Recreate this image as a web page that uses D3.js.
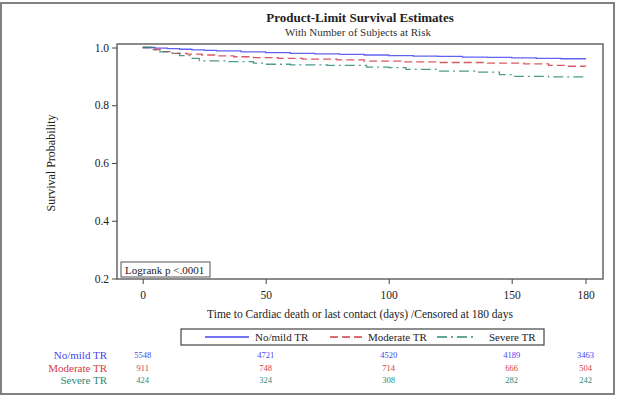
<!DOCTYPE html>
<html><head><meta charset="utf-8">
<script src="https://cdn.jsdelivr.net/npm/d3@7"></script>
<style>html,body{margin:0;padding:0;background:#fff;}svg{display:block;}</style>
</head><body>
<script>
// ---- data ----
const groups = ["No/mild TR", "Moderate TR", "Severe TR"];
const colors = ["#4646f0", "#d23c48", "#2e8a7a"];
const dashes = [null, "8,4", "10,4,2,4"];
const timesNoMild = [0,5,10,15,20,25,30,40,50,60,70,80,90,100,110,120,130,140,150,160,170,180];
const survNoMild  = [1.0,0.998,0.996,0.994,0.992,0.990,0.988,0.985,0.982,0.980,0.978,0.976,0.974,0.972,0.970,0.969,0.967,0.966,0.964,0.962,0.961,0.959];
const timesModerate = [0,3,8,12,18,24,30,37,45,55,65,79,90,105,120,140,155,165,172,180];
const survModerate  = [1.0,0.993,0.986,0.980,0.977,0.974,0.971,0.968,0.965,0.962,0.960,0.957,0.953,0.950,0.948,0.946,0.943,0.938,0.935,0.934];
const timesSevere = [0,4,7,12,15,20,23,35,45,50,60,75,91,100,107,120,135,145,150,165,180];
const survSevere  = [1.0,0.992,0.985,0.980,0.972,0.962,0.954,0.951,0.946,0.942,0.940,0.938,0.932,0.930,0.924,0.918,0.915,0.906,0.900,0.898,0.896];
const xTicks = [0, 50, 100, 150, 180];
const yTicks = [0.2, 0.4, 0.6, 0.8, 1.0];
const riskNoMild = [5548, 4721, 4520, 4189, 3463];
const riskModerate = [911, 748, 714, 666, 504];
const riskSevere = [424, 324, 308, 282, 242];
const titleText = "Product-Limit Survival Estimates";
const subtitleText = "With Number of Subjects at Risk";
const xLabel = "Time to Cardiac death or last contact (days) /Censored at 180 days";
const yLabel = "Survival Probability";
const logrankText = "Logrank p <.0001";

const series = [
  {name: groups[0], t: timesNoMild, s: survNoMild, risk: riskNoMild},
  {name: groups[1], t: timesModerate, s: survModerate, risk: riskModerate},
  {name: groups[2], t: timesSevere, s: survSevere, risk: riskSevere}
];

const W = 621, H = 397;
const font = "'Liberation Serif','Times New Roman',serif";
const svg = d3.select("body").append("svg").attr("width", W).attr("height", H)
  .style("font-family", font);

// outer frame
svg.append("rect").attr("x", 1).attr("y", 3).attr("width", 613).attr("height", 391)
  .attr("fill", "none").attr("stroke", "#808080").attr("stroke-width", 2);

const frame = {l: 117, r: 603, t: 44, b: 279};
const x = d3.scaleLinear().domain([0, 180]).range([142.7, 585.5]);
const y = d3.scaleLinear().domain([0.2, 1.0]).range([278.5, 47.5]);

// titles
svg.append("text").attr("x", 360).attr("y", 22).attr("text-anchor", "middle")
  .attr("font-size", 13).attr("font-weight", "bold").attr("fill", "#222").text(titleText);
svg.append("text").attr("x", 358).attr("y", 36).attr("text-anchor", "middle")
  .attr("font-size", 11).attr("fill", "#333").text(subtitleText);

// plot frame
svg.append("rect").attr("x", frame.l).attr("y", frame.t)
  .attr("width", frame.r - frame.l).attr("height", frame.b - frame.t)
  .attr("fill", "none").attr("stroke", "#666").attr("stroke-width", 1.5);

// axes
const yAxis = d3.axisLeft(y).tickValues(yTicks).tickFormat(d3.format(".1f")).tickSizeOuter(0).tickSize(5).tickPadding(3);
const gy = svg.append("g").attr("transform", `translate(${frame.l},0)`).call(yAxis);
gy.select(".domain").remove();
gy.selectAll("text").attr("font-size", 11.5).attr("fill", "#222").style("font-family", font);
gy.selectAll("line").attr("stroke", "#444");

const xAxis = d3.axisBottom(x).tickValues(xTicks).tickFormat(d3.format("d")).tickSizeOuter(0).tickSize(5).tickPadding(7);
const gx = svg.append("g").attr("transform", `translate(0,${frame.b})`).call(xAxis);
gx.select(".domain").remove();
gx.selectAll("text").attr("font-size", 11.5).attr("fill", "#222").style("font-family", font);
gx.selectAll("line").attr("stroke", "#444");

// axis labels
svg.append("text").attr("x", 360).attr("y", 318).attr("text-anchor", "middle")
  .attr("font-size", 11.5).attr("fill", "#222").text(xLabel);
svg.append("text").attr("transform", "translate(55,163) rotate(-90)").attr("text-anchor", "middle")
  .attr("font-size", 12).attr("fill", "#222").text(yLabel);

// curves
const line = d3.line().x(d => x(d[0])).y(d => y(d[1])).curve(d3.curveStepAfter);
series.forEach((sr, i) => {
  const pts = sr.t.map((t, j) => [t, sr.s[j]]);
  const p = svg.append("path").attr("d", line(pts)).attr("fill", "none")
    .attr("stroke", colors[i]).attr("stroke-width", 1.3).attr("opacity", 0.85);
  if (dashes[i]) p.attr("stroke-dasharray", dashes[i]);
});

// logrank box
svg.append("rect").attr("x", 121).attr("y", 262).attr("width", 89).attr("height", 15)
  .attr("fill", "#fff").attr("stroke", "#555").attr("stroke-width", 1);
svg.append("text").attr("x", 125).attr("y", 273.5).attr("font-size", 11).attr("fill", "#222").text(logrankText);

// legend
svg.append("rect").attr("x", 181).attr("y", 329).attr("width", 363).attr("height", 16)
  .attr("fill", "#fff").attr("stroke", "#444").attr("stroke-width", 1.2);
const legItems = [
  {x1: 205, x2: 249, tx: 255},
  {x1: 330, x2: 362, tx: 368},
  {x1: 437, x2: 476, tx: 489}
];
legItems.forEach((it, i) => {
  const l = svg.append("line").attr("x1", it.x1).attr("x2", it.x2).attr("y1", 337).attr("y2", 337)
    .attr("stroke", colors[i]).attr("stroke-width", 1.3);
  if (dashes[i]) l.attr("stroke-dasharray", dashes[i]);
  svg.append("text").attr("x", it.tx).attr("y", 341).attr("font-size", 11).attr("fill", "#222").text(groups[i]);
});

// risk table
const rowY = [355, 367.5, 380];
series.forEach((sr, i) => {
  svg.append("text").attr("x", 107).attr("y", rowY[i] + 4).attr("text-anchor", "end")
    .attr("font-size", 11).attr("fill", colors[i]).text(sr.name);
  svg.selectAll(null).data(sr.risk).enter().append("text")
    .attr("x", (d, j) => x(xTicks[j])).attr("y", rowY[i] + 3).attr("text-anchor", "middle")
    .attr("font-size", 8.5).attr("fill", colors[i]).text(d => d);
});
</script>
</body></html>
